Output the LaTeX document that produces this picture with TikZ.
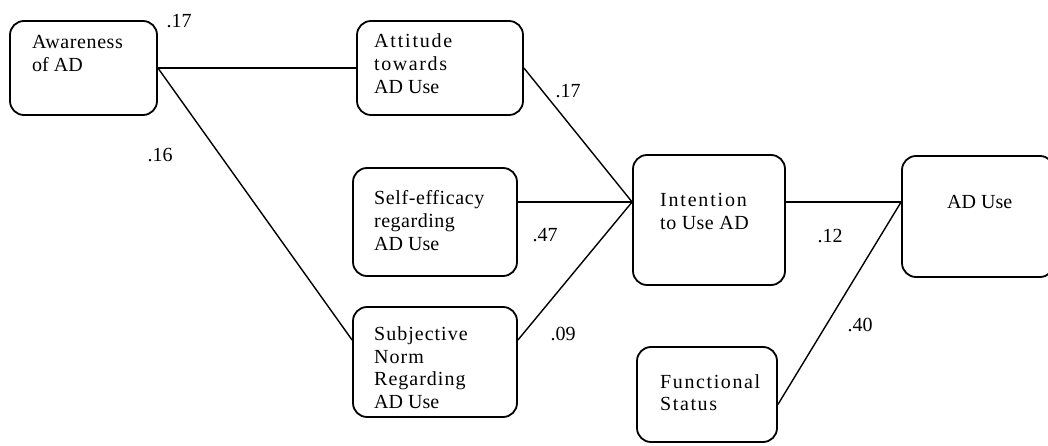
\documentclass[tikz,border=0pt]{standalone}
\usepackage{fontspec}
\setmainfont{Liberation Serif}
\usepackage{tikz}
\usetikzlibrary{positioning}

\newcommand{\tracked}[2]{{\addfontfeature{LetterSpace=#1}#2}}

\begin{document}
\begin{tikzpicture}[x=1pt, y=-1pt,
    box/.style={draw, rounded corners=14pt, line width=1.8pt, inner sep=0pt},
    txt/.style={anchor=base west, align=left, inner sep=0pt,
        font=\fontsize{20}{22.6}\selectfont},
    coef/.style={inner sep=0pt, font=\fontsize{20}{22.6}\selectfont},
    link/.style={line width=1.4pt}]
    \clip (0,0) rectangle (1048,446);

    % boxes
    \node [box, minimum width=147pt, minimum height=94pt] (aw) at (83.5,68) {};
    \node [box, minimum width=166pt, minimum height=94pt] (att) at (440,68) {};
    \node [box, minimum width=164pt, minimum height=108pt] (se) at (435,222) {};
    \node [box, minimum width=164pt, minimum height=110pt] (sn) at (435,362) {};
    \node [box, minimum width=152pt, minimum height=130pt] (in) at (709,220) {};
    \node [box, minimum width=152pt, minimum height=121pt] (ad) at (978,216.5) {};
    \node [box, minimum width=140pt, minimum height=95pt] (fs) at (707,394.5) {};

    % texts (anchored at the baseline of the last line)
    \node [txt] (awt) at (32,71.6) {\tracked{3}{Awareness}\\of AD};
    \node [txt] (attt) at (374,93.2) {\tracked{9}{Attitude}\\\tracked{8}{towards}\\AD Use};
    \node [txt] (set) at (374,250.2) {\tracked{3}{Self-efficacy}\\\tracked{2.5}{regarding}\\AD Use};
    \node [txt] (snt) at (374,408.5) {\tracked{5}{Subjective}\\\tracked{5}{Norm}\\\tracked{5}{Regarding}\\AD Use};
    \node [txt] (int) at (660,229.6) {\tracked{9}{Intention}\\\tracked{2.5}{to Use AD}};
    \node [txt] (adt) at (947,208) {AD Use};
    \node [txt] (fst) at (660,410.6) {\tracked{8}{Functional}\\\tracked{8}{Status}};

    % paths
    \coordinate (hub) at ([yshift=18pt]in.west);
    \coordinate (sink) at (ad.west |- hub);
    \draw [link] (aw.east) -- (att.west);
    \draw [link] (aw.east) -- ([yshift=22pt]sn.west);
    \draw [link] (att.east) -- (hub);
    \draw [link] (se.east |- hub) -- (hub);
    \draw [link] ([yshift=22pt]sn.east) -- (hub);
    \draw [link] (in.east |- hub) -- (sink);
    \draw [link] ([yshift=-10pt]fs.east) -- (sink);

    % path coefficients
    \node [coef] (c1) at (179,21) {.17};
    \node [coef] (c2) at (160,155) {.16};
    \node [coef] (c3) at (568,91) {.17};
    \node [coef] (c4) at (545,235) {.47};
    \node [coef] (c5) at (563,334) {.09};
    \node [coef] (c6) at (830,236) {.12};
    \node [coef] (c7) at (860,325) {.40};
\end{tikzpicture}
\end{document}
